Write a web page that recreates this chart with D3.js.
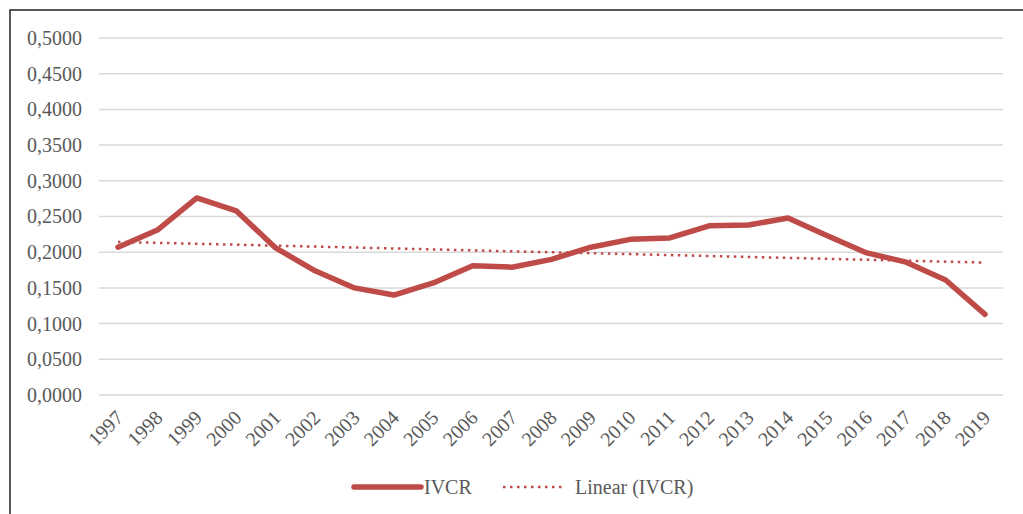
<!DOCTYPE html>
<html>
<head>
<meta charset="utf-8">
<script src="https://cdn.jsdelivr.net/npm/d3@7"></script>
<style>
  html, body { margin: 0; padding: 0; background: #fff; }
  svg { display: block; }
</style>
</head>
<body>
<svg id="chart" width="1023" height="514"></svg>
<script>
const years = ["1997","1998","1999","2000","2001","2002","2003","2004","2005","2006","2007","2008","2009","2010","2011","2012","2013","2014","2015","2016","2017","2018","2019"];
const ivcr = [0.207,0.231,0.276,0.258,0.206,0.174,0.150,0.140,0.157,0.181,0.179,0.190,0.207,0.218,0.220,0.237,0.238,0.248,0.223,0.199,0.186,0.161,0.113];
const yTicks = [0,0.05,0.1,0.15,0.2,0.25,0.3,0.35,0.4,0.45,0.5];
const seriesName = "IVCR";
const trendName = "Linear (IVCR)";

const svg = d3.select("#chart");
const font = "'Liberation Serif','Times New Roman',serif";
const fs = 20;
const textColor = "#595959";
const lineColor = "#be4b48";

// frame
svg.append("rect").attr("x", 10).attr("y", 10).attr("width", 1030).attr("height", 520)
  .attr("fill", "none").attr("stroke", "#222").attr("stroke-width", 1.5);

const x = d3.scalePoint().domain(years).range([118, 985]);
const y = d3.scaleLinear().domain([0, 0.5]).range([395, 38]);

// gridlines
svg.append("g").selectAll("line").data(yTicks).join("line")
  .attr("x1", 99).attr("x2", 1003)
  .attr("y1", d => y(d)).attr("y2", d => y(d))
  .attr("stroke", "#d9d9d9").attr("stroke-width", 1.5);

// y axis labels
const fmt = d => d.toFixed(4).replace(".", ",");
const yAxis = svg.append("g").attr("transform", "translate(99,0)")
  .call(d3.axisLeft(y).tickValues(yTicks).tickFormat(fmt).tickSize(0).tickPadding(17));
yAxis.select(".domain").remove();
yAxis.selectAll("text").attr("font-family", font).attr("font-size", fs).attr("fill", textColor);

// x axis labels
const xAxis = svg.append("g").attr("transform", "translate(0,395)")
  .call(d3.axisBottom(x).tickSize(0).tickPadding(0));
xAxis.select(".domain").remove();
xAxis.selectAll("text")
  .attr("font-family", font).attr("font-size", fs).attr("fill", textColor)
  .attr("text-anchor", "end").attr("dy", 0).attr("y", 0)
  .attr("transform", "translate(6,24) rotate(-45)");

// trend line (least squares on index)
const n = ivcr.length;
const idx = d3.range(n);
const mx = d3.mean(idx), my = d3.mean(ivcr);
const slope = d3.sum(idx, i => (i - mx) * (ivcr[i] - my)) / d3.sum(idx, i => (i - mx) ** 2);
const icpt = my - slope * mx;
const trend = idx.map(i => icpt + slope * i);

const line = d3.line().x((d, i) => x(years[i])).y(d => y(d));

svg.append("path").datum(trend).attr("d", line)
  .attr("fill", "none").attr("stroke", lineColor).attr("stroke-width", 2.5)
  .attr("stroke-dasharray", "2.5,4.5");

svg.append("path").datum(ivcr).attr("d", line)
  .attr("fill", "none").attr("stroke", lineColor).attr("stroke-width", 5.5)
  .attr("stroke-linejoin", "round").attr("stroke-linecap", "round");

// legend
const lg = svg.append("g");
lg.append("line").attr("x1", 354).attr("x2", 421).attr("y1", 487).attr("y2", 487)
  .attr("stroke", lineColor).attr("stroke-width", 5.5).attr("stroke-linecap", "round");
lg.append("text").attr("x", 424).attr("y", 494).text(seriesName)
  .attr("font-family", font).attr("font-size", fs).attr("fill", textColor);
lg.append("line").attr("x1", 503).attr("x2", 562).attr("y1", 487).attr("y2", 487)
  .attr("stroke", lineColor).attr("stroke-width", 2.5).attr("stroke-dasharray", "2.5,4.5");
lg.append("text").attr("x", 575).attr("y", 494).text(trendName)
  .attr("font-family", font).attr("font-size", fs).attr("fill", textColor);
</script>
</body>
</html>
